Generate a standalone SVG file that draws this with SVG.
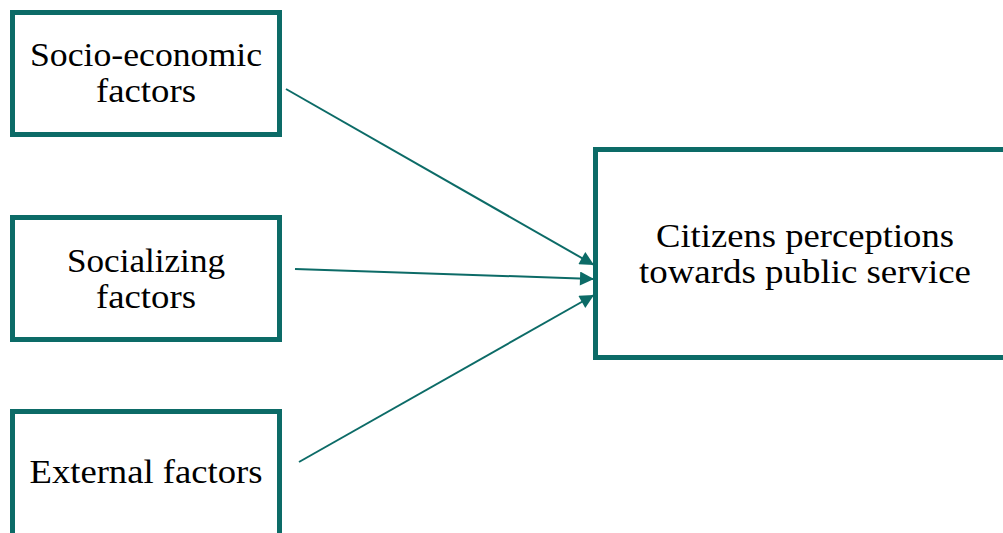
<svg xmlns="http://www.w3.org/2000/svg" width="1003" height="533" viewBox="0 0 1003 533">
<style>
.box{fill:#ffffff;stroke:#0c6b67;stroke-width:5}
.lbl{font-family:"Liberation Serif","DejaVu Serif",serif;font-size:33px;fill:#000000;text-anchor:middle}
.conn{stroke:#0c6b67;stroke-width:2;fill:none}
</style>
<defs>
<marker id="ah" viewBox="0 0 10 10" refX="10" refY="5" markerWidth="8" markerHeight="7" markerUnits="strokeWidth" orient="auto">
<path d="M0,0 L10,5 L0,10 z" fill="#0c6b67"/>
</marker>
</defs>
<rect width="1003" height="533" fill="#ffffff"/>
<g id="node-socio">
<rect class="box" x="12.5" y="12.5" width="267" height="122"/>
<text class="lbl" x="146" y="66" textLength="232" lengthAdjust="spacingAndGlyphs">Socio-economic</text>
<text class="lbl" x="146" y="102" textLength="100" lengthAdjust="spacingAndGlyphs">factors</text>
</g>
<g id="node-socializing">
<rect class="box" x="12.5" y="217.5" width="267" height="122"/>
<text class="lbl" x="146" y="272" textLength="158" lengthAdjust="spacingAndGlyphs">Socializing</text>
<text class="lbl" x="146" y="308" textLength="100" lengthAdjust="spacingAndGlyphs">factors</text>
</g>
<g id="node-external">
<rect class="box" x="12.5" y="411.5" width="267" height="135"/>
<text class="lbl" x="146" y="483" textLength="233" lengthAdjust="spacingAndGlyphs">External factors</text>
</g>
<g id="node-citizens">
<rect class="box" x="595.5" y="149.5" width="420" height="208"/>
<text class="lbl" x="805" y="247" textLength="298" lengthAdjust="spacingAndGlyphs">Citizens perceptions</text>
<text class="lbl" x="805" y="283" textLength="332" lengthAdjust="spacingAndGlyphs">towards public service</text>
</g>
<g id="connectors">
<line class="conn" x1="286" y1="89" x2="594" y2="265" marker-end="url(#ah)"/>
<line class="conn" x1="295" y1="269" x2="594" y2="279" marker-end="url(#ah)"/>
<line class="conn" x1="299" y1="462" x2="594" y2="295" marker-end="url(#ah)"/>
</g>
</svg>
